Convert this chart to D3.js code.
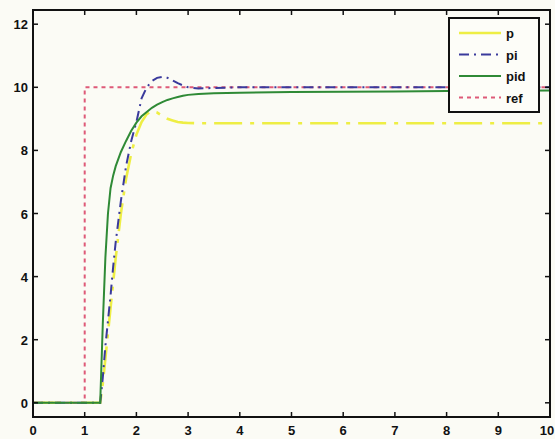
<!DOCTYPE html>
<html>
<head>
<meta charset="utf-8">
<style>
  body {margin: 0; background: #fbfbf5;}
  text {font-family: "Liberation Sans", Arial, sans-serif; font-weight: bold; font-size: 13px; fill: #111;}
</style>
</head>
<body>
<svg id="svg" width="555" height="439"></svg>
<script src="https://d3js.org/d3.v7.min.js"></script>
<script>
// time samples (s)
var time = [0, 1.3, 1.35, 1.4, 1.45, 1.5, 1.55, 1.6, 1.7, 1.8, 1.9, 2.0, 2.1, 2.2, 2.3, 2.4, 2.5, 2.6, 2.7, 2.8, 2.9, 3.0, 3.2, 3.5, 4, 5, 6, 7, 8, 9, 10];
var pVals   = [0, 0, 0.6, 1.4, 2.2, 3.0, 3.8, 4.6, 6.0, 7.1, 7.9, 8.5, 8.9, 9.15, 9.25, 9.2, 9.1, 9.0, 8.95, 8.9, 8.88, 8.87, 8.86, 8.86, 8.86, 8.86, 8.86, 8.86, 8.86, 8.86, 8.86];
var piVals  = [0, 0, 0.8, 1.8, 2.6, 3.4, 4.3, 5.1, 6.4, 7.5, 8.3, 8.9, 9.65, 10.0, 10.2, 10.3, 10.33, 10.3, 10.22, 10.13, 10.06, 10.0, 9.96, 9.98, 10, 10, 10, 10, 10, 10, 10];
var pidVals = [0, 0, 2.5, 4.6, 6.0, 6.8, 7.2, 7.5, 7.95, 8.3, 8.62, 8.88, 9.08, 9.22, 9.35, 9.45, 9.53, 9.6, 9.65, 9.69, 9.73, 9.76, 9.79, 9.81, 9.83, 9.85, 9.86, 9.87, 9.88, 9.89, 9.9];
var refTime = [0, 1, 1, 10];
var refVals = [0, 0, 10, 10];

var xTicks = [0, 1, 2, 3, 4, 5, 6, 7, 8, 9, 10];
var yTicks = [0, 2, 4, 6, 8, 10, 12];
var names = ["p", "pi", "pid", "ref"];

var svg = d3.select("#svg");
var mLeft = 33, mRight = 550, mTop = 10, mBottom = 417;

var x = d3.scaleLinear().domain([0, 10]).range([mLeft, mRight]);
var y = d3.scaleLinear().domain([-0.45, 12.45]).range([mBottom, mTop]);

var series = [
  {name: "p",   t: time,    v: pVals,   color: "#eeee44", dash: "28,8,4,8", width: 2.6},
  {name: "pi",  t: time,    v: piVals,  color: "#3a3a9c", dash: "10,5,2,5", width: 2},
  {name: "pid", t: time,    v: pidVals, color: "#2f8a36", dash: null,       width: 2},
  {name: "ref", t: refTime, v: refVals, color: "#de5a78", dash: "4,4",      width: 2}
];

var line = d3.line().x(function(d){return x(d[0]);}).y(function(d){return y(d[1]);});

// ref underneath, then p, pi, pid
var order = [3, 0, 1, 2];
order.forEach(function(i){
  var s = series[i];
  var pts = s.t.map(function(t, j){return [t, s.v[j]];});
  svg.append("path")
    .attr("d", line(pts))
    .attr("fill", "none")
    .attr("stroke", s.color)
    .attr("stroke-width", s.width)
    .attr("stroke-dasharray", s.dash);
});

// axes box with inward ticks
var g = svg.append("g");
g.append("rect").attr("x", mLeft).attr("y", mTop).attr("width", mRight - mLeft).attr("height", mBottom - mTop)
  .attr("fill", "none").attr("stroke", "#111").attr("stroke-width", 2);

xTicks.forEach(function(t){
  g.append("line").attr("x1", x(t)).attr("x2", x(t)).attr("y1", mBottom).attr("y2", mBottom - 5).attr("stroke", "#111").attr("stroke-width", 1.5);
  g.append("line").attr("x1", x(t)).attr("x2", x(t)).attr("y1", mTop).attr("y2", mTop + 5).attr("stroke", "#111").attr("stroke-width", 1.5);
  g.append("text").attr("x", t === 10 ? 547 : x(t)).attr("y", 435).attr("text-anchor", "middle").text(t);
});
yTicks.forEach(function(v){
  g.append("line").attr("x1", mLeft).attr("x2", mLeft + 5).attr("y1", y(v)).attr("y2", y(v)).attr("stroke", "#111").attr("stroke-width", 1.5);
  g.append("line").attr("x1", mRight).attr("x2", mRight - 5).attr("y1", y(v)).attr("y2", y(v)).attr("stroke", "#111").attr("stroke-width", 1.5);
  g.append("text").attr("x", 28).attr("y", y(v) + 5).attr("text-anchor", "end").text(v);
});

// legend
var lg = svg.append("g").attr("transform", "translate(449,18)");
lg.append("rect").attr("width", 90).attr("height", 94).attr("fill", "#fdfdf8").attr("stroke", "#111").attr("stroke-width", 2);
series.forEach(function(s, i){
  var yy = 15 + i * 21.5;
  lg.append("line").attr("x1", 10).attr("x2", 52).attr("y1", yy).attr("y2", yy)
    .attr("stroke", s.color).attr("stroke-width", s.width).attr("stroke-dasharray", i === 0 ? null : s.dash);
  lg.append("text").attr("x", 57).attr("y", yy + 5).text(names[i]);
});
</script>
</body>
</html>
